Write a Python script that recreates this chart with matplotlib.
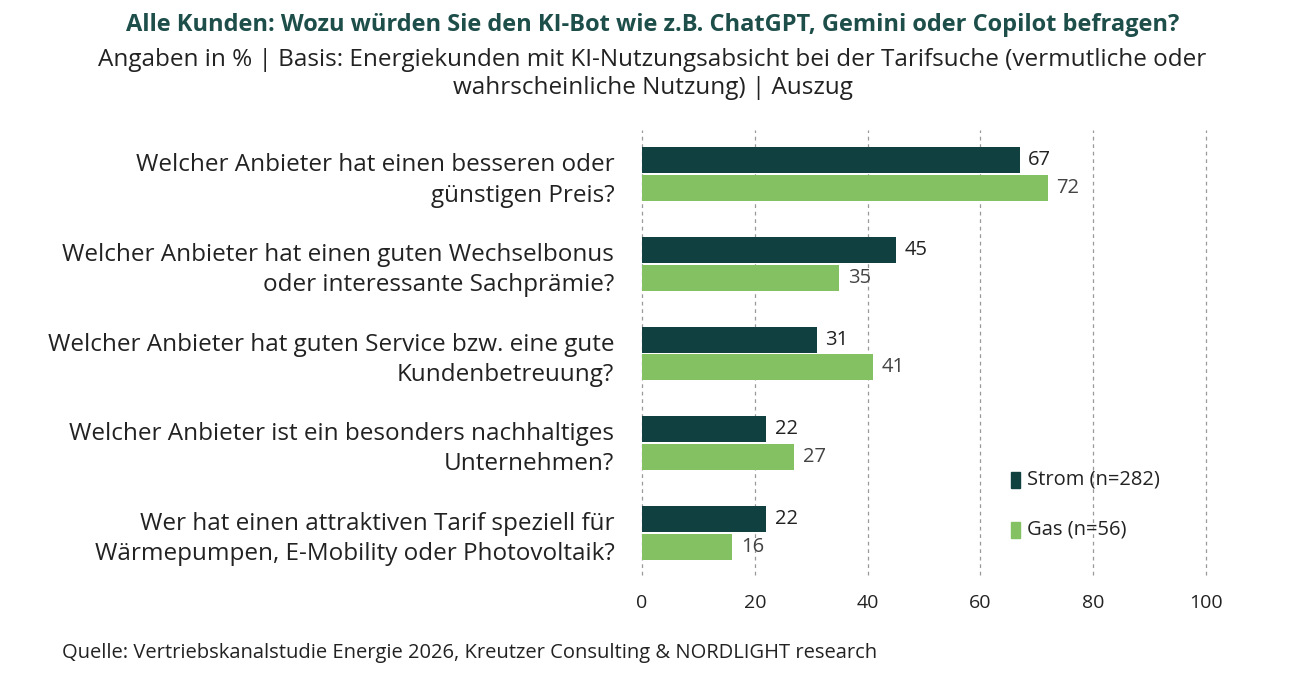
import numpy as np
import matplotlib.pyplot as plt

plt.rcParams['font.family'] = ['Open Sans', 'DejaVu Sans']

categories = [
    'Welcher Anbieter hat einen besseren oder\ngünstigen Preis?',
    'Welcher Anbieter hat einen guten Wechselbonus\noder interessante Sachprämie?',
    'Welcher Anbieter hat guten Service bzw. eine gute\nKundenbetreuung?',
    'Welcher Anbieter ist ein besonders nachhaltiges\nUnternehmen?',
    'Wer hat einen attraktiven Tarif speziell für\nWärmepumpen, E-Mobility oder Photovoltaik?',
]
strom = [67, 45, 31, 22, 22]
gas = [72, 35, 41, 27, 16]
series_names = ['Strom (n=282)', 'Gas (n=56)']

dark = '#10403f'
green = '#84c162'
text_col = '#222222'

fig = plt.figure(figsize=(13.05, 6.86), dpi=100)
ax = fig.add_axes([0.492, 0.162, 0.432, 0.648])

y = np.arange(len(categories))
h = 0.29
off = 0.155
ax.barh(y - off, strom, height=h, color=dark)
ax.barh(y + off, gas, height=h, color=green)
for yi, s, g in zip(y, strom, gas):
    ax.text(s + 1.5, yi - off, str(s), va='center', ha='left', fontsize=14.5, color=text_col)
    ax.text(g + 1.5, yi + off, str(g), va='center', ha='left', fontsize=14.5, color='#444444')

ax.set_xlim(0, 100)
ax.set_ylim(4.47, -0.49)
ax.set_xticks(range(0, 101, 20))
ax.tick_params(axis='x', length=0, labelsize=14, pad=14, colors=text_col)
ax.set_yticks(y)
ax.set_yticklabels(categories, fontsize=17.5, color=text_col, ha='right', linespacing=1.35)
ax.tick_params(axis='y', length=0, pad=20)
ax.xaxis.grid(True, linestyle=(0, (3, 3)), color='#999999', linewidth=0.9)
for gl in ax.xaxis.get_gridlines():
    gl.set_clip_on(False)
ax.set_axisbelow(True)
for sp in ax.spines.values():
    sp.set_visible(False)

# legend
for name, col, ly in zip(series_names, [dark, green], [480, 530]):
    fy = 1 - ly / 686
    fig.patches.append(plt.Rectangle((1011 / 1305, fy - 0.011), 9 / 1305, 0.022,
                                     transform=fig.transFigure, color=col))
    fig.text(1027 / 1305, fy, name, va='center', ha='left', fontsize=14.5, color=text_col)

fig.text(0.5, 1 - 25 / 686, 'Alle Kunden: Wozu würden Sie den KI-Bot wie z.B. ChatGPT, Gemini oder Copilot befragen?',
         ha='center', va='center', fontsize=17, fontweight='bold', color='#1d4e4a')
fig.text(0.5, 1 - 74 / 686, 'Angaben in % | Basis: Energiekunden mit KI-Nutzungsabsicht bei der Tarifsuche (vermutliche oder\nwahrscheinliche Nutzung) | Auszug',
         ha='center', va='center', fontsize=17.5, color=text_col, linespacing=1.2)
fig.text(62 / 1305, 1 - 653 / 686, 'Quelle: Vertriebskanalstudie Energie 2026, Kreutzer Consulting & NORDLIGHT research',
         ha='left', va='center', fontsize=14.5, color=text_col)

fig.savefig('out.png', dpi=100)
